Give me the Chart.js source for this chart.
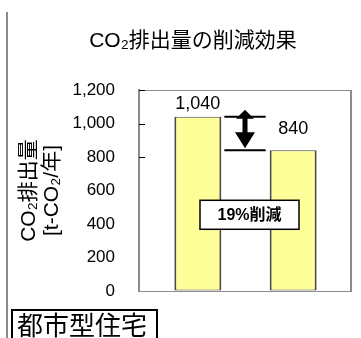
<!DOCTYPE html>
<html>
<head>
<meta charset="utf-8">
<script src="https://cdn.jsdelivr.net/npm/chart.js@4/dist/chart.umd.min.js"></script>
<style>
  html, body { margin: 0; padding: 0; background: #fff; }
  #wrap { position: relative; width: 361px; height: 338px; overflow: hidden; }
  #wrap canvas { position: absolute; left: 0; top: 0; }
  .rule { position: absolute; left: 6px; top: 12px; width: 2px; height: 326px; background: #8c8c8c; }
  .caption {
    position: absolute; left: 11px; top: 309px; width: 147px; height: 40px;
    box-sizing: border-box; border: 2px solid #000; padding-left: 4px;
    font: 26px "Noto Sans CJK JP", sans-serif; line-height: 26px; color: #000;
    white-space: nowrap; background: #fff;
  }
</style>
</head>
<body>
<div id="wrap">
  <canvas id="c"></canvas>
  <div class="rule"></div>
  <div class="caption" id="caption"></div>
</div>
<script>
// Chart data
const categories = [''];
const seriesNames = ['現状', '対策後'];
const emissions = [1040, 840];
const yTicks = [0, 200, 400, 600, 800, 1000, 1200];
const tickMarks = [1200, 1000, 800];
const titleText = 'CO₂排出量の削減効果';
const yTitle = ['CO₂排出量', '[t-CO₂/年]'];
const captionText = '都市型住宅';

document.getElementById('caption').textContent = captionText;

const LATIN = '"Liberation Sans", Arial, "Noto Sans CJK JP", sans-serif';
const reductionPct = Math.round((emissions[0] - emissions[1]) / emissions[0] * 100);
const fmt = v => v.toLocaleString('en-US');

const decor = {
  id: 'decor',
  beforeDatasetsDraw(chart) {
    const { ctx, chartArea: a, scales: { y } } = chart;
    ctx.save();
    // plot area frame (top, right, bottom)
    ctx.strokeStyle = '#8c8c8c';
    ctx.lineWidth = 1;
    ctx.beginPath();
    ctx.moveTo(a.left, a.top + 0.5); ctx.lineTo(a.right, a.top + 0.5);
    ctx.moveTo(a.left, a.bottom + 0.5); ctx.lineTo(a.right, a.bottom + 0.5);
    ctx.stroke();
    ctx.lineWidth = 2;
    ctx.beginPath();
    ctx.moveTo(a.right - 1, a.top); ctx.lineTo(a.right - 1, a.bottom + 1);
    ctx.stroke();
    // inward tick marks
    ctx.strokeStyle = '#000';
    ctx.lineWidth = 1;
    ctx.beginPath();
    tickMarks.forEach(v => {
      const py = Math.round(y.getPixelForValue(v)) + 0.5;
      ctx.moveTo(a.left, py); ctx.lineTo(a.left + 6, py);
    });
    ctx.stroke();
    ctx.restore();
  },
  afterDatasetsDraw(chart) {
    const { ctx, scales: { y } } = chart;
    const b0 = chart.getDatasetMeta(0).data[0];
    const b1 = chart.getDatasetMeta(1).data[0];
    ctx.save();

    // title
    ctx.fillStyle = '#000';
    ctx.font = '21px ' + LATIN;
    ctx.textAlign = 'center';
    ctx.textBaseline = 'middle';
    ctx.fillText(titleText, 193, 41);

    // value labels
    ctx.font = '18px ' + LATIN;
    ctx.textBaseline = 'bottom';
    const gaps = [4, 12];
    [b0, b1].forEach((bar, i) => {
      ctx.fillText(fmt(emissions[i]), bar.x, bar.y - gaps[i]);
    });

    // reduction arrow between the two levels
    const xL = b0.x + b0.width / 2 + 3;
    const xR = b1.x - b1.width / 2 - 4;
    const yHi = y.getPixelForValue(emissions[0]);
    const yLo = y.getPixelForValue(emissions[1]);
    ctx.strokeStyle = '#000';
    ctx.lineWidth = 2;
    ctx.beginPath();
    ctx.moveTo(xL, yHi); ctx.lineTo(xR, yHi);
    ctx.moveTo(xL, yLo); ctx.lineTo(xR, yLo);
    ctx.stroke();
    const cx = (xL + xR) / 2;
    ctx.beginPath();
    ctx.moveTo(cx, yHi - 7);
    ctx.lineTo(cx + 9, yHi + 2);
    ctx.lineTo(cx + 2.5, yHi + 2);
    ctx.lineTo(cx + 2.5, yLo - 18);
    ctx.lineTo(cx + 10, yLo - 18);
    ctx.lineTo(cx, yLo - 2);
    ctx.lineTo(cx - 10, yLo - 18);
    ctx.lineTo(cx - 2.5, yLo - 18);
    ctx.lineTo(cx - 2.5, yHi + 2);
    ctx.lineTo(cx - 9, yHi + 2);
    ctx.closePath();
    ctx.fillStyle = '#000';
    ctx.fill();

    // reduction note box
    const bx = (b0.x + b1.x) / 2 + 4;
    const by = y.getPixelForValue(455);
    const bw = 99, bh = 29;
    ctx.fillStyle = '#fff';
    ctx.fillRect(bx - bw / 2, by - bh / 2, bw, bh);
    ctx.lineWidth = 1.5;
    ctx.strokeRect(bx - bw / 2, by - bh / 2, bw, bh);
    ctx.fillStyle = '#000';
    ctx.font = 'bold 16px ' + LATIN;
    ctx.textBaseline = 'middle';
    ctx.fillText(reductionPct + '%削減', bx, by + 1);

    ctx.restore();
  }
};

new Chart(document.getElementById('c'), {
  type: 'bar',
  data: {
    labels: categories,
    datasets: seriesNames.map((name, i) => ({
      label: name,
      data: [emissions[i]],
      backgroundColor: '#ffff99',
      borderColor: '#4a4a4a',
      borderWidth: { top: 1, bottom: 1, left: 2, right: 2 },
      borderSkipped: false,
      categoryPercentage: 0.895,
      barPercentage: 0.493
    }))
  },
  options: {
    responsive: true,
    maintainAspectRatio: false,
    devicePixelRatio: 1,
    animation: false,
    locale: 'en-US',
    layout: { padding: { top: 90, right: 9, bottom: 47, left: 0 } },
    plugins: {
      legend: { display: false },
      title: { display: false },
      tooltip: { enabled: false }
    },
    scales: {
      x: { display: false },
      y: {
        min: 0,
        max: 1200,
        afterBuildTicks: s => { s.ticks = yTicks.map(v => ({ value: v })); },
        afterFit: s => { s.width = 139; },
        grid: { drawOnChartArea: false, drawTicks: false },
        border: { display: true, color: '#8c8c8c', width: 2 },
        ticks: {
          padding: 24,
          color: '#000',
          font: { family: LATIN, size: 17 },
          callback: v => fmt(v)
        },
        title: {
          display: true,
          text: yTitle,
          color: '#000',
          font: { family: LATIN, size: 21, lineHeight: 1.1 },
          padding: { top: 18, bottom: 0 }
        }
      }
    }
  },
  plugins: [decor]
});
</script>
</body>
</html>
